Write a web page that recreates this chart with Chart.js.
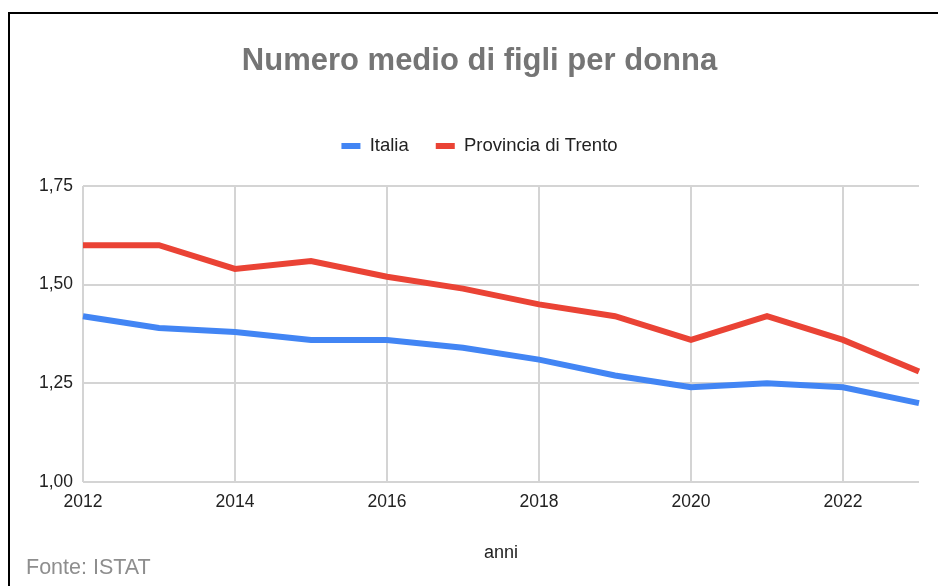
<!DOCTYPE html>
<html lang="it">
<head>
<meta charset="utf-8">
<title>Numero medio di figli per donna</title>
<script src="https://cdn.jsdelivr.net/npm/chart.js@4/dist/chart.umd.min.js"></script>
<style>
  html, body { margin: 0; padding: 0; overflow: hidden; background: #fff; }
  #wrap { position: relative; width: 938px; height: 586px; }
  #grafico { display: block; }
  /* cornice nera (tagliata a destra e in basso come nell'originale) */
  #cornice {
    position: absolute; left: 8px; top: 12px; width: 2000px; height: 2000px;
    border-left: 2px solid #000; border-top: 2px solid #000; pointer-events: none;
  }
  #fonte {
    position: absolute; left: 26px; top: 555px;
    font: 21.5px 'Liberation Sans', Arial, sans-serif; color: #8e8e8e;
  }
</style>
</head>
<body>
<div id="wrap">
  <canvas id="grafico" width="938" height="586"></canvas>
  <div id="cornice"></div>
  <div id="fonte">Fonte: ISTAT</div>
</div>
<script>
// === Dati ===
const anni = ['2012', '2013', '2014', '2015', '2016', '2017', '2018', '2019', '2020', '2021', '2022', '2023'];
const italia = [1.42, 1.39, 1.38, 1.36, 1.36, 1.34, 1.31, 1.27, 1.24, 1.25, 1.24, 1.20];
const trento = [1.60, 1.60, 1.54, 1.56, 1.52, 1.49, 1.45, 1.42, 1.36, 1.42, 1.36, 1.28];
const yMin = 1.0;
const yMax = 1.75;
const yPasso = 0.25;

const BLU = '#4285f4';
const ROSSO = '#ea4335';
const GRIGLIA = '#d4d4d4';

Chart.defaults.font.family = "'Liberation Sans', Arial, sans-serif";
Chart.defaults.color = '#222';

// spazio extra sotto la legenda
const legendaSpazio = {
  id: 'legendaSpazio',
  beforeInit(chart) {
    const fitOrig = chart.legend.fit;
    chart.legend.fit = function () {
      fitOrig.bind(chart.legend)();
      this.height += 20.75;
    };
  }
};

const ctx = document.getElementById('grafico').getContext('2d');

new Chart(ctx, {
  type: 'line',
  data: {
    labels: anni,
    datasets: [
      {
        label: 'Italia',
        data: italia,
        borderColor: BLU,
        backgroundColor: BLU,
        borderWidth: 6,
        pointRadius: 0,
        tension: 0
      },
      {
        label: 'Provincia di Trento',
        data: trento,
        borderColor: ROSSO,
        backgroundColor: ROSSO,
        borderWidth: 6,
        pointRadius: 0,
        tension: 0
      }
    ]
  },
  options: {
    responsive: false,
    animation: false,
    layout: { padding: { left: 40, right: 19, top: 0, bottom: 22.6 } },
    scales: {
      x: {
        type: 'category',
        offset: false,
        border: { display: false },
        grid: {
          drawTicks: false,
          lineWidth: 2,
          color: c => (c.index % 2 === 0 ? GRIGLIA : 'rgba(0,0,0,0)')
        },
        ticks: {
          autoSkip: false,
          maxRotation: 0,
          padding: 10,
          color: '#222',
          font: { size: 17.5 },
          callback: function (v, i) {
            return i % 2 === 0 ? this.getLabelForValue(v) : '';
          }
        },
        title: {
          display: true,
          text: 'anni',
          color: '#222',
          font: { size: 18 },
          padding: { top: 18.8, bottom: 0 }
        }
      },
      y: {
        min: yMin,
        max: yMax,
        border: { display: false },
        grid: { drawTicks: false, color: GRIGLIA, lineWidth: 2 },
        ticks: {
          stepSize: yPasso,
          padding: 10,
          color: '#222',
          font: { size: 17.5 },
          callback: v => v.toFixed(2).replace('.', ',')
        },
        afterFit: s => { s.width = 43; }
      }
    },
    plugins: {
      tooltip: { enabled: false },
      title: {
        display: true,
        text: 'Numero medio di figli per donna',
        color: '#757575',
        font: { size: 31, weight: 'bold' },
        padding: { top: 43, bottom: 29.55 }
      },
      legend: {
        position: 'top',
        labels: {
          boxWidth: 19,
          boxHeight: 6,
          padding: 27,
          color: '#222',
          font: { size: 18.5 },
          generateLabels: chart =>
            Chart.defaults.plugins.legend.labels.generateLabels(chart).map(l => ({
              ...l,
              lineWidth: 0,
              fillStyle: l.strokeStyle
            }))
        }
      }
    }
  },
  plugins: [legendaSpazio]
});
</script>
</body>
</html>
